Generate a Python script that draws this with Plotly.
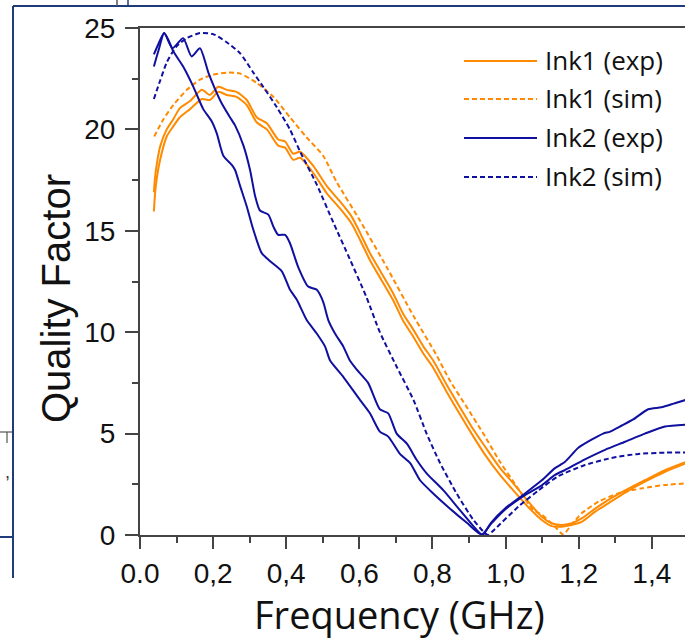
import plotly.graph_objects as go

# ---------------- data ----------------
ink1_exp_a_f = [0.038, 0.041, 0.046, 0.055, 0.073, 0.091, 0.109, 0.137, 0.169, 0.191, 0.214, 0.237, 0.264,
                0.292, 0.319, 0.347, 0.378, 0.397, 0.419, 0.438, 0.474, 0.511, 0.547, 0.579, 0.602, 0.629,
                0.661, 0.693, 0.720, 0.745, 0.775, 0.802, 0.839, 0.875, 0.912, 0.944, 0.985, 1.021, 1.058,
                1.099, 1.126, 1.153, 1.181, 1.208, 1.245, 1.281, 1.327, 1.381, 1.436, 1.500]
ink1_exp_a_q = [16.9, 17.6, 18.3, 19.15, 20.0, 20.5, 21.05, 21.4, 21.95, 21.7, 22.1, 21.95, 21.85,
                21.45, 20.6, 20.3, 19.5, 19.4, 18.8, 18.9, 18.2, 17.2, 16.45, 15.7, 14.9, 13.9,
                12.9, 11.9, 10.9, 10.2, 9.3, 8.6, 7.4, 6.3, 5.2, 4.35, 3.3, 2.55, 1.73,
                0.9, 0.58, 0.49, 0.58, 0.82, 1.3, 1.73, 2.2, 2.7, 3.2, 3.65]

ink1_exp_b_f = [0.038, 0.041, 0.046, 0.055, 0.073, 0.091, 0.109, 0.137, 0.169, 0.191, 0.214, 0.237, 0.264,
                0.292, 0.319, 0.347, 0.378, 0.397, 0.419, 0.438, 0.474, 0.511, 0.547, 0.579, 0.602, 0.629,
                0.661, 0.693, 0.720, 0.745, 0.775, 0.802, 0.839, 0.875, 0.912, 0.944, 0.985, 1.021, 1.058,
                1.099, 1.126, 1.153, 1.181, 1.208, 1.245, 1.281, 1.327, 1.381, 1.436, 1.500]
ink1_exp_b_q = [15.95, 16.8, 17.6, 18.5, 19.65, 20.15, 20.6, 21.0, 21.5, 21.45, 21.85, 21.7, 21.6,
                21.2, 20.35, 20.0, 19.2, 19.1, 18.5, 18.6, 17.85, 16.85, 16.1, 15.35, 14.55, 13.55,
                12.55, 11.55, 10.55, 9.85, 8.95, 8.25, 7.05, 5.95, 4.85, 3.95, 2.95, 2.2, 1.45,
                0.74, 0.44, 0.41, 0.5, 0.65, 1.15, 1.56, 2.09, 2.63, 3.12, 3.58]

ink1_sim_f = [0.039, 0.064, 0.091, 0.128, 0.164, 0.200, 0.237, 0.274, 0.319, 0.365, 0.410, 0.456, 0.501,
              0.538, 0.602, 0.675, 0.748, 0.810, 0.848, 0.894, 0.939, 0.985, 1.030, 1.076, 1.099, 1.135,
              1.158, 1.176, 1.208, 1.254, 1.308, 1.372, 1.436, 1.500]
ink1_sim_q = [19.65, 20.5, 21.2, 21.95, 22.45, 22.7, 22.8, 22.75, 22.3, 21.6, 20.6, 19.6, 18.7,
              17.4, 15.5, 13.2, 10.8, 8.9, 7.6, 6.3, 5.0, 3.6, 2.4, 1.23, 1.0, 0.41,
              0.02, 0.41, 1.07, 1.64, 2.05, 2.3, 2.47, 2.55]

ink2_exp_a_f = [0.038, 0.050, 0.066, 0.078, 0.091, 0.118, 0.146, 0.173, 0.196, 0.210, 0.228, 0.251, 0.260,
                0.274, 0.292, 0.310, 0.333, 0.356, 0.388, 0.410, 0.429, 0.456, 0.483, 0.506, 0.520, 0.556,
                0.602, 0.629, 0.656, 0.679, 0.711, 0.739, 0.766, 0.802, 0.848, 0.894, 0.935, 0.960, 0.998,
                1.053, 1.099, 1.135, 1.162, 1.217, 1.272, 1.327, 1.381, 1.436, 1.500]
ink2_exp_a_q = [23.1, 23.85, 24.75, 24.4, 23.85, 23.1, 22.1, 21.0, 20.4, 19.8, 18.7, 18.25, 18.0,
                17.2, 16.2, 15.05, 13.9, 13.5, 13.0, 12.1, 11.6, 10.6, 9.95, 9.3, 8.6, 7.8,
                6.65, 6.0, 5.1, 4.85, 4.0, 3.55, 2.7, 2.05, 1.3, 0.6, 0.02, 0.55, 1.25,
                1.97, 2.45, 2.96, 3.2, 3.73, 4.2, 4.6, 5.0, 5.35, 5.45]

ink2_exp_b_f = [0.038, 0.050, 0.066, 0.089, 0.118, 0.141, 0.164, 0.187, 0.205, 0.223, 0.246, 0.260, 0.283,
                0.301, 0.315, 0.328, 0.351, 0.365, 0.378, 0.397, 0.410, 0.433, 0.460, 0.483, 0.501, 0.515,
                0.533, 0.556, 0.574, 0.593, 0.624, 0.656, 0.679, 0.702, 0.730, 0.757, 0.784, 0.830, 0.875,
                0.921, 0.937, 0.960, 0.998, 1.053, 1.099, 1.135, 1.162, 1.199, 1.235, 1.267, 1.286, 1.318,
                1.349, 1.390, 1.426, 1.463, 1.500]
ink2_exp_b_q = [23.7, 24.2, 24.75, 24.0, 24.5, 23.6, 24.0, 22.8, 22.0, 21.3, 20.6, 20.2, 19.2,
                18.0, 16.7, 16.0, 15.8, 15.2, 14.8, 14.8, 14.4, 13.2, 12.25, 12.1, 11.5, 10.6,
                9.95, 9.3, 8.6, 8.15, 7.5, 6.2, 6.0, 5.0, 4.5, 3.7, 3.04, 2.2, 1.23,
                0.25, 0.0, 0.6, 1.3, 2.05, 2.7, 3.3, 3.6, 4.3, 4.7, 5.0, 5.1, 5.4,
                5.7, 6.2, 6.3, 6.5, 6.7]

ink2_sim_f = [0.038, 0.055, 0.073, 0.100, 0.128, 0.164, 0.200, 0.237, 0.274, 0.310, 0.337, 0.374, 0.410,
              0.438, 0.483, 0.529, 0.574, 0.620, 0.656, 0.702, 0.748, 0.784, 0.821, 0.866, 0.912, 0.944,
              0.952, 0.971, 1.035, 1.090, 1.144, 1.217, 1.290, 1.363, 1.436, 1.500]
ink2_sim_q = [21.5, 22.4, 23.3, 24.1, 24.5, 24.75, 24.7, 24.3, 23.75, 22.8, 22.1, 21.1, 20.0,
              18.9, 17.3, 15.4, 13.6, 11.7, 10.0, 8.3, 6.66, 5.0, 3.54, 2.05, 0.74, 0.08,
              0.0, 0.3, 1.4, 2.2, 2.9, 3.45, 3.8, 4.0, 4.06, 4.07]

x_tick_vals = [0.0, 0.2, 0.4, 0.6, 0.8, 1.0, 1.2, 1.4]
x_tick_text = ["0.0", "0,2", "0,4", "0,6", "0,8", "1,0", "1,2", "1,4"]
y_tick_vals = [0, 5, 10, 15, 20, 25]

legend_names = ["Ink1 (exp)", "Ink1 (sim)", "Ink2 (exp)", "Ink2 (sim)"]

# ---------------- styling ----------------
ORANGE = "#FF8A00"
BLUE = "#1010A0"
AX = "#444444"
DASH = "5px,3px"

W, H = 685, 639
L, R, T, B = 140, 0, 28, 104
PW, PH = W - L - R, H - T - B


def px(x):
    return (x - L) / PW


def py(y):
    return (H - B - y) / PH


fig = go.Figure()
fig.add_trace(go.Scatter(x=ink1_exp_a_f, y=ink1_exp_a_q, mode="lines", name=legend_names[0],
                         line=dict(color=ORANGE, width=2, shape="spline", smoothing=0.6), showlegend=False))
fig.add_trace(go.Scatter(x=ink1_exp_b_f, y=ink1_exp_b_q, mode="lines", name=legend_names[0],
                         line=dict(color=ORANGE, width=2, shape="spline", smoothing=0.6), showlegend=False))
fig.add_trace(go.Scatter(x=ink1_sim_f, y=ink1_sim_q, mode="lines", name=legend_names[1],
                         line=dict(color=ORANGE, width=2, dash=DASH, shape="spline", smoothing=0.6), showlegend=False))
fig.add_trace(go.Scatter(x=ink2_exp_a_f, y=ink2_exp_a_q, mode="lines", name=legend_names[2],
                         line=dict(color=BLUE, width=2, shape="spline", smoothing=0.6), showlegend=False))
fig.add_trace(go.Scatter(x=ink2_exp_b_f, y=ink2_exp_b_q, mode="lines", name=legend_names[2],
                         line=dict(color=BLUE, width=2, shape="spline", smoothing=0.6), showlegend=False))
fig.add_trace(go.Scatter(x=ink2_sim_f, y=ink2_sim_q, mode="lines", name=legend_names[3],
                         line=dict(color=BLUE, width=2, dash=DASH, shape="spline", smoothing=0.6), showlegend=False))

shapes = []
annotations = []

# manual legend
leg_rows = [61, 99, 138, 177]
leg_styles = [(ORANGE, None), (ORANGE, DASH), (BLUE, None), (BLUE, DASH)]
for name, yy, (col, dash) in zip(legend_names, leg_rows, leg_styles):
    ln = dict(color=col, width=2)
    if dash:
        ln["dash"] = dash
    shapes.append(dict(type="line", xref="paper", yref="paper", x0=px(464), x1=px(537),
                       y0=py(yy), y1=py(yy), line=ln))
    annotations.append(dict(text=name, xref="paper", yref="paper", x=px(543), y=py(yy - 1),
                            xanchor="left", yanchor="middle", showarrow=False,
                            font=dict(family="Open Sans", size=26, color="#111111")))

# axis titles
annotations.append(dict(text="Frequency (GHz)", xref="paper", yref="paper", x=px(399), y=py(614),
                        xanchor="center", yanchor="middle", showarrow=False,
                        font=dict(family="Open Sans", size=38, color="#111111")))
annotations.append(dict(text="Quality Factor", xref="paper", yref="paper", x=px(56), y=py(299),
                        xanchor="center", yanchor="middle", showarrow=False, textangle=-90,
                        font=dict(family="Liberation Sans", size=40, color="#111111")))

# surrounding frame fragments (from the cropped source page)
FRAME = "#1F3B7A"
shapes += [
    dict(type="line", xref="paper", yref="paper", x0=px(13), x1=px(13), y0=py(6), y1=py(578),
         line=dict(color=FRAME, width=2)),
    dict(type="line", xref="paper", yref="paper", x0=px(13), x1=px(686), y0=py(6), y1=py(6),
         line=dict(color=FRAME, width=2)),
    dict(type="line", xref="paper", yref="paper", x0=px(0), x1=px(13), y0=py(537), y1=py(537),
         line=dict(color=FRAME, width=2)),
    dict(type="line", xref="paper", yref="paper", x0=px(117), x1=px(117), y0=py(0), y1=py(6),
         line=dict(color="#555555", width=1.5)),
    dict(type="line", xref="paper", yref="paper", x0=px(128), x1=px(128), y0=py(0), y1=py(6),
         line=dict(color=FRAME, width=1.5)),
    dict(type="line", xref="paper", yref="paper", x0=px(0), x1=px(12), y0=py(432), y1=py(432),
         line=dict(color="#555555", width=1.2)),
    dict(type="line", xref="paper", yref="paper", x0=px(7), x1=px(7), y0=py(432), y1=py(443),
         line=dict(color="#555555", width=1.2)),
]
annotations.append(dict(text=",", xref="paper", yref="paper", x=px(7), y=py(472), showarrow=False,
                        xanchor="center", yanchor="middle",
                        font=dict(family="Liberation Sans", size=18, color="#333333")))

fig.update_layout(
    width=W, height=H,
    margin=dict(l=L, r=R, t=T, b=B, pad=0),
    paper_bgcolor="white", plot_bgcolor="white",
    showlegend=False,
    shapes=shapes, annotations=annotations,
    xaxis=dict(range=[0, PW / 365.6], tickmode="array", tickvals=x_tick_vals, ticktext=x_tick_text,
               ticks="outside", ticklen=12, tickwidth=2, tickcolor=AX,
               showline=True, linecolor=AX, linewidth=2, mirror=True,
               showgrid=False, zeroline=False,
               minor=dict(ticks="outside", ticklen=6, tickwidth=2, tickcolor=AX,
                          tickvals=[0.1, 0.3, 0.5, 0.7, 0.9, 1.1, 1.3, 1.5]),
               tickfont=dict(family="Liberation Sans", size=28, color="#111111")),
    yaxis=dict(range=[0, 25], tickmode="array", tickvals=y_tick_vals,
               ticks="outside", ticklen=13, tickwidth=2, tickcolor=AX,
               showline=True, linecolor=AX, linewidth=2, mirror=False,
               showgrid=False, zeroline=False, ticklabelstandoff=4,
               minor=dict(ticks="outside", ticklen=6, tickwidth=2, tickcolor=AX,
                          tickvals=[2.5, 7.5, 12.5, 17.5, 22.5]),
               tickfont=dict(family="Liberation Sans", size=28, color="#111111")),
)

fig.write_html("out.html", config={"displayModeBar": False},
               post_script="document.body.style.margin='0';document.body.style.overflow='hidden';")
